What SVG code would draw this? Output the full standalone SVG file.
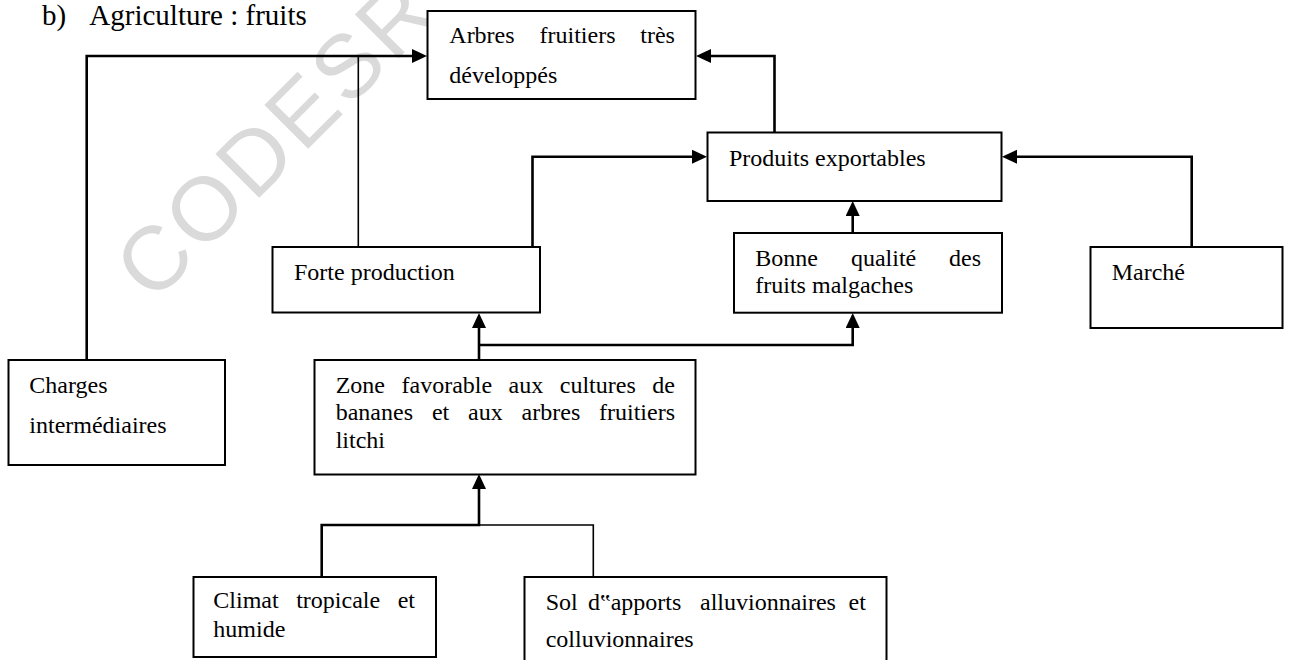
<svg xmlns="http://www.w3.org/2000/svg" width="1289" height="660" viewBox="0 0 1289 660">
<style>
  .t{font-family:"Liberation Serif","Times New Roman",serif;font-size:24px;fill:#000}
  .title{font-family:"Liberation Serif","Times New Roman",serif;font-size:29px;fill:#000}
  .box{fill:#fff;stroke:#000;stroke-width:2}
  .c{fill:none;stroke:#000;stroke-width:2.6}
  .thin{fill:none;stroke:#000;stroke-width:1.6}
  .wm{font-family:"Liberation Sans",Arial,sans-serif;font-size:90px;fill:#dadada;letter-spacing:4px}
</style>
<defs>
  <marker id="ah" markerUnits="userSpaceOnUse" markerWidth="16" markerHeight="15" refX="5" refY="7" orient="auto">
    <path d="M0,0 L15,7 L0,14 z" fill="#000"/>
  </marker>
</defs>
<rect width="1289" height="660" fill="#fff"/>
<g id="watermark">
  <text class="wm" x="153" y="304" transform="rotate(-45 153 304)">CODESR</text>
</g>
<g id="title">
  <text class="title" x="42" y="25">b)</text>
  <text class="title" x="89.3" y="25">Agriculture : fruits</text>
</g>
<g id="connectors">
  <path class="c" d="M86.7,360 V56 H417" marker-end="url(#ah)"/>
  <path class="thin" d="M358.3,247 V56"/>
  <path class="c" d="M532.5,247 V156.7 H697" marker-end="url(#ah)"/>
  <path class="c" d="M774.5,132 V56 H706" marker-end="url(#ah)"/>
  <path class="c" d="M1191.7,247 V156.7 H1012" marker-end="url(#ah)"/>
  <path class="c" d="M852.7,233 V211" marker-end="url(#ah)"/>
  <path class="c" d="M479,360 V323" marker-end="url(#ah)"/>
  <path class="c" d="M479,345 H852.7 V323" marker-end="url(#ah)"/>
  <path class="c" d="M321.7,577 V525 H479 V484" marker-end="url(#ah)"/>
  <path class="thin" d="M593.3,577 V525 H479"/>
</g>
<g id="n-arbres">
  <rect class="box" x="427.5" y="11" width="268" height="88"/>
  <text class="t" y="43.3"><tspan x="449.3">Arbres</tspan><tspan x="539.5">fruitiers</tspan><tspan x="640.3">très</tspan></text>
  <text class="t" x="449.3" y="83">développés</text>
</g>
<g id="n-produits">
  <rect class="box" x="707.5" y="132.5" width="294" height="68.5"/>
  <text class="t" x="729" y="165.7">Produits exportables</text>
</g>
<g id="n-forte">
  <rect class="box" x="272.5" y="247" width="267.5" height="65.5"/>
  <text class="t" x="294" y="280">Forte production</text>
</g>
<g id="n-bonne">
  <rect class="box" x="734" y="233" width="268" height="79.7"/>
  <text class="t" y="265.7"><tspan x="755.3">Bonne</tspan><tspan x="850.9">qualité</tspan><tspan x="949">des</tspan></text>
  <text class="t" x="755.3" y="293.3">fruits malgaches</text>
</g>
<g id="n-marche">
  <rect class="box" x="1090.5" y="247" width="192" height="81"/>
  <text class="t" x="1111.7" y="280">Marché</text>
</g>
<g id="n-charges">
  <rect class="box" x="8.5" y="360" width="216.5" height="105"/>
  <text class="t" x="29.3" y="393.3">Charges</text>
  <text class="t" x="29.3" y="433.3">intermédiaires</text>
</g>
<g id="n-zone">
  <rect class="box" x="314.5" y="360" width="381" height="114.5"/>
  <text class="t" y="392.7"><tspan x="335.7">Zone</tspan><tspan x="401.5">favorable</tspan><tspan x="508.6">aux</tspan><tspan x="559.8">cultures</tspan><tspan x="652.3">de</tspan></text>
  <text class="t" y="420.3"><tspan x="335.7">bananes</tspan><tspan x="431.9">et</tspan><tspan x="468">aux</tspan><tspan x="521.6">arbres</tspan><tspan x="599">fruitiers</tspan></text>
  <text class="t" x="335.7" y="448">litchi</text>
</g>
<g id="n-climat">
  <rect class="box" x="193.5" y="577" width="242.5" height="80"/>
  <text class="t" y="607.7"><tspan x="213.3">Climat</tspan><tspan x="296.2">tropicale</tspan><tspan x="397.7">et</tspan></text>
  <text class="t" x="213.3" y="636.7">humide</text>
</g>
<g id="n-sol">
  <rect class="box" x="524.5" y="577" width="362" height="100"/>
  <text class="t" y="610"><tspan x="545.7">Sol</tspan><tspan x="588">d‟apports</tspan><tspan x="700">alluvionnaires</tspan><tspan x="848.5">et</tspan></text>
  <text class="t" x="545.7" y="647">colluvionnaires</text>
</g>
</svg>
